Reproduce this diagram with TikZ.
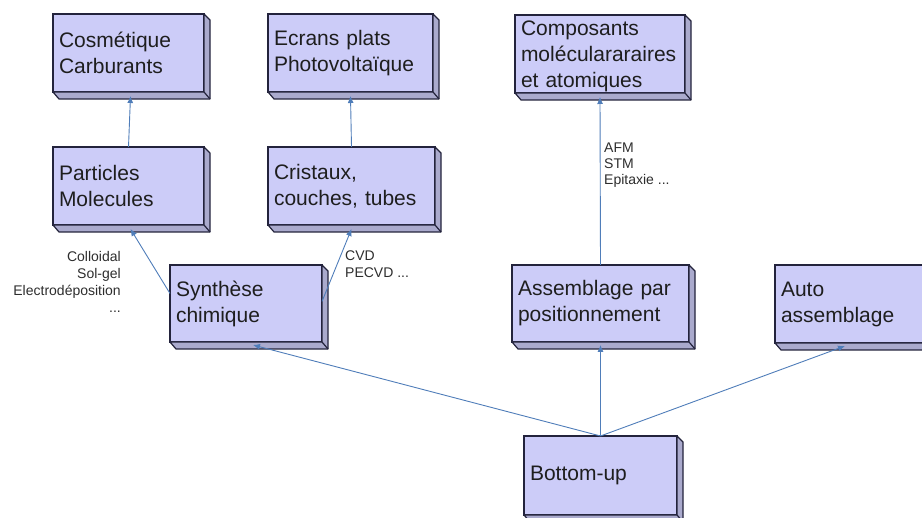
\documentclass[tikz,border=0pt]{standalone}
\usepackage{fontspec}
\setmainfont{Liberation Sans}
\usetikzlibrary{arrows.meta}
\hyphenpenalty=10000
\definecolor{boxfill}{RGB}{204,204,248}
\definecolor{boxside}{RGB}{170,170,205}
\definecolor{boxline}{RGB}{35,35,60}
\definecolor{arrblue}{RGB}{79,125,185}
\definecolor{txt}{RGB}{30,30,30}
\definecolor{lbl}{RGB}{45,45,45}
\tikzset{
 boxst/.style={draw=boxline, line width=1.2pt, fill=boxfill, inner xsep=6pt, inner ysep=0pt, outer sep=0pt, align=left, text=txt, font=\fontsize{21}{26}\selectfont},
 sidest/.style={draw=boxline, line width=1.2pt, fill=boxside, line join=round},
 conn/.style={draw=arrblue, line width=0.9pt, -{Latex[length=7pt,width=6pt]}},
 lblst/.style={inner sep=0pt, text=lbl},
}
\newcommand\mybox[6]{%
  \pgfmathsetmacro\bxw{#4-#2}%
  \pgfmathsetmacro\bxh{#5-#3}%
  \pgfmathsetmacro\bxt{#4-#2-12}%
  \node[boxst, anchor=north west, minimum width=\bxw pt, minimum height=\bxh pt, text width=\bxt pt] (#1) at (#2,#3) {#6};
  \filldraw[sidest] (#1.north east) -- ([xshift=6pt,yshift=-6pt]#1.north east) -- ([xshift=6pt,yshift=-7pt]#1.south east) -- ([xshift=6pt,yshift=-7pt]#1.south west) -- (#1.south west) -- (#1.south east) -- cycle;
  \draw[sidest, fill=none] (#1.south east) -- ([xshift=6pt,yshift=-7pt]#1.south east);
}
\begin{document}
\begin{tikzpicture}[x=1pt,y=-1pt]
\useasboundingbox (0,0) rectangle (922,518);
\mybox{cos}{53}{14}{204}{92}{Cosmétique\\Carburants}
\mybox{ecr}{268}{14}{433}{92}{Ecrans plats\\Photovoltaïque}
\mybox{comp}{515}{15}{685}{93}{\rule{0pt}{19pt}Composants\\moléculararaires\\et atomiques}
\mybox{part}{53}{147}{204}{225}{Particles\\Molecules}
\mybox{cri}{268}{147}{435}{225}{Cristaux,\\couches, tubes}
\mybox{syn}{170}{265}{322}{342}{Synthèse\\chimique}
\mybox{asm}{512}{265}{689}{342}{Assemblage par\\positionnement}
\mybox{auto}{775}{265}{935}{343}{Auto\\assemblage}
\mybox{bu}{524}{436}{677}{515}{Bottom-up}

\draw[conn] (bu.north) -- ([xshift=7pt,yshift=-3pt]syn.south);
\draw[conn] (bu.north) -- ([yshift=-3pt]asm.south);
\draw[conn] (bu.north) -- ([xshift=-10pt,yshift=-3pt]auto.south);
\draw[conn] ([yshift=10pt]syn.west) -- ([xshift=2pt,yshift=-4pt]part.south);
\draw[conn] ([yshift=2pt]syn.east) -- ([yshift=-4pt]cri.south);
\draw[conn] (part.north) -- ([xshift=2pt,yshift=-4pt]cos.south);
\draw[conn] (cri.north) -- ([xshift=0pt,yshift=-4pt]ecr.south);
\draw[conn] (asm.north) -- ([yshift=-4pt]comp.south);

\node[lblst, anchor=north east, align=right, font=\fontsize{14}{17}\selectfont] (lc) at (121,251) {Colloidal\\Sol-gel\\Electrodéposition\\...};
\node[lblst, anchor=north west, align=left, font=\fontsize{14}{17}\selectfont] (lv) at (345,251) {CVD\\PECVD ...};
\node[lblst, anchor=north west, align=left, font=\fontsize{14}{16}\selectfont] (la) at (604,143) {AFM\\STM\\Epitaxie ...};
\end{tikzpicture}
\end{document}
